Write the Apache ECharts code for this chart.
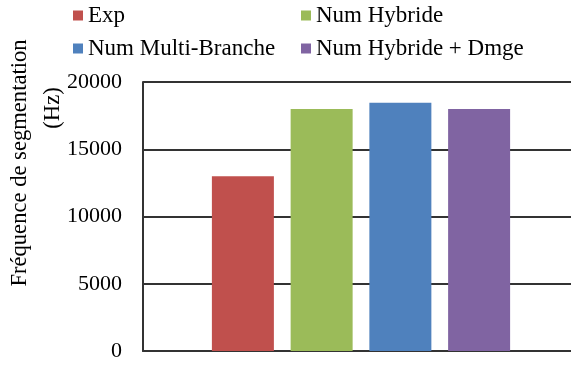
<!DOCTYPE html>
<html>
<head>
<meta charset="utf-8">
<script src="https://cdn.jsdelivr.net/npm/echarts@6/dist/echarts.min.js"></script>
<style>
  html, body { margin: 0; padding: 0; background: #fff; }
  #main { width: 571px; height: 365px; }
</style>
</head>
<body>
<div id="main"></div>
<script>
// chart data
const categories = [''];
const seriesNames = ['Exp', 'Num Hybride', 'Num Multi-Branche', 'Num Hybride + Dmge'];
const values = [13000, 18000, 18450, 18000];
const colors = ['#C0504D', '#9BBB59', '#4F81BD', '#8064A2'];
const yTicks = { min: 0, max: 20000, interval: 5000 };

const font = 'Liberation Serif';

var chartDom = document.getElementById('main');
var myChart = echarts.init(chartDom);
var option;

const legendBase = {
    orient: 'vertical',
    top: 4,
    padding: 0,
    itemGap: 10,
    itemWidth: 10,
    itemHeight: 10,
    icon: 'rect',
    textStyle: { fontFamily: font, fontSize: 23, color: '#000', lineHeight: 22 }
};

option = {
    animation: false,
    grid: { left: 143, right: -8, top: 82, bottom: 14, outerBoundsMode: 'none', containLabel: false },
    legend: [
        Object.assign({}, legendBase, { left: 73, data: [seriesNames[0], seriesNames[2]] }),
        Object.assign({}, legendBase, { left: 301, data: [seriesNames[1], seriesNames[3]] })
    ],
    graphic: [
        {
            type: 'text', x: 20, y: 163, rotation: Math.PI / 2,
            style: { text: 'Fréquence de segmentation', fontFamily: font, fontSize: 22.6, fill: '#000', align: 'center', verticalAlign: 'middle' }
        },
        {
            type: 'text', x: 53, y: 108, rotation: Math.PI / 2,
            style: { text: '(Hz)', fontFamily: font, fontSize: 22.6, fill: '#000', align: 'center', verticalAlign: 'middle' }
        }
    ],
    xAxis: {
        type: 'category',
        data: categories,
        axisLine: { show: true, lineStyle: { color: '#333', width: 2 } },
        axisTick: { show: false },
        axisLabel: { show: false }
    },
    yAxis: {
        type: 'value',
        min: yTicks.min,
        max: yTicks.max,
        interval: yTicks.interval,
        axisLine: { show: true, lineStyle: { color: '#333', width: 2 } },
        axisTick: { show: false },
        axisLabel: { fontFamily: font, fontSize: 22, color: '#000', margin: 21, formatter: v => String(v) },
        splitLine: { lineStyle: { color: '#333', width: 2 } }
    },
    series: seriesNames.map((name, i) => ({
        name: name,
        type: 'bar',
        barWidth: 62,
        barGap: '27%',
        itemStyle: { color: colors[i] },
        data: [values[i]]
    }))
};
option && myChart.setOption(option);
</script>
</body>
</html>
